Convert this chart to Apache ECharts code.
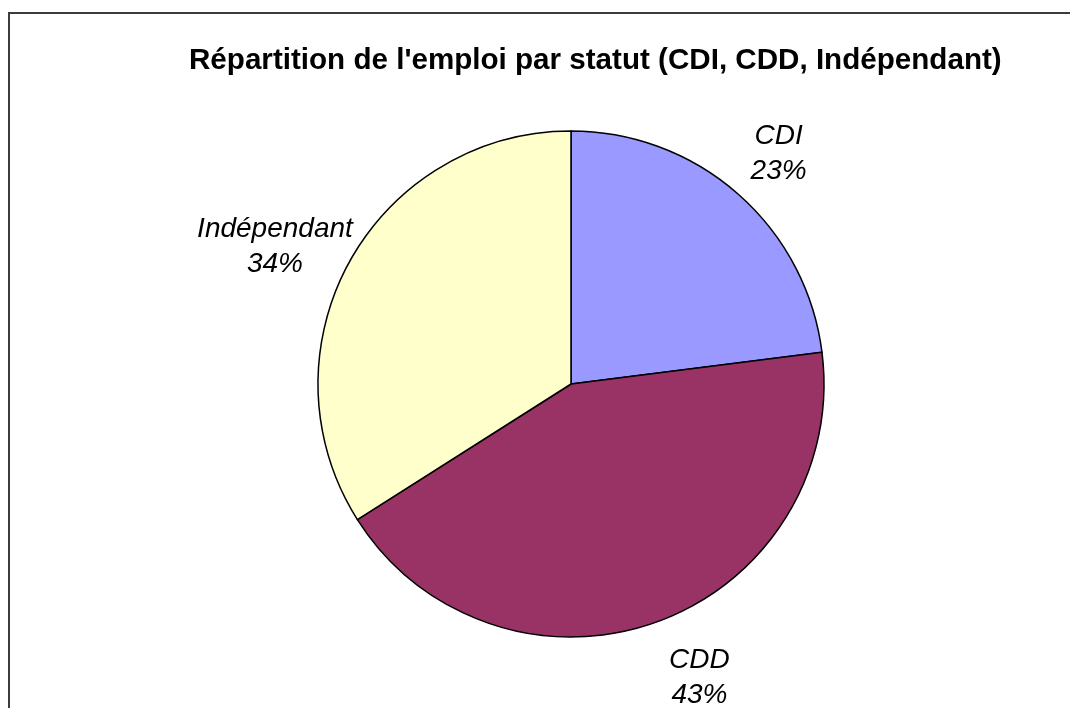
<!DOCTYPE html>
<html>
<head>
<meta charset="utf-8">
<script src="https://cdn.jsdelivr.net/npm/echarts@6/dist/echarts.min.js"></script>
<style>
  html, body { margin: 0; padding: 0; background: #fff; }
  #chart { width: 1070px; height: 708px; }
</style>
</head>
<body>
<div id="chart"></div>
<script>
// données du graphique
const categories = ['CDI', 'CDD', 'Indépendant'];
const values = [23, 43, 34];
const colors = ['#9999FF', '#993366', '#FFFFCC'];

const titleText = "Répartition de l'emploi par statut (CDI, CDD, Indépendant)";

const pieData = categories.map((name, i) => ({
  name: name,
  value: values[i],
  itemStyle: { color: colors[i] }
}));

// anneau invisible, sert juste à centrer les étiquettes hors du camembert
const labelData = categories.map((name, i) => ({ name: name, value: values[i] }));

// petits décalages des étiquettes (Excel ne les met pas pile sur l'angle médian)
const labelShift = [[-6, 12], [19, -10], [-13, 18]];

const chart = echarts.init(document.getElementById('chart'));
chart.setOption({
  backgroundColor: '#ffffff',
  animation: false,
  title: {
    text: titleText,
    left: 184,
    top: 41,
    textStyle: {
      fontFamily: 'Liberation Sans, Arial, sans-serif',
      fontWeight: 'bold',
      fontSize: 29.6,
      color: '#000'
    }
  },
  graphic: [{
    type: 'rect',
    shape: { x: 9, y: 13, width: 1200, height: 900 },
    style: { fill: 'none', stroke: '#3c3c3c', lineWidth: 2 },
    silent: true
  }],
  series: [
    {
      type: 'pie',
      center: [571, 384],
      radius: [0, 253],
      startAngle: 90,
      clockwise: true,
      silent: true,
      data: pieData,
      itemStyle: { borderColor: '#000', borderWidth: 1.5 },
      label: { show: false },
      labelLine: { show: false }
    },
    {
      type: 'pie',
      center: [571, 384],
      radius: [253, 387],
      startAngle: 90,
      clockwise: true,
      silent: true,
      data: labelData,
      itemStyle: { color: 'transparent', borderWidth: 0 },
      label: {
        show: true,
        position: 'inside',
        formatter: '{b}\n{d}%',
        fontFamily: 'Liberation Sans, Arial, sans-serif',
        fontStyle: 'italic',
        fontSize: 28,
        lineHeight: 35,
        color: '#000',
        align: 'center'
      },
      labelLine: { show: false },
      labelLayout: function (params) {
        const s = labelShift[params.dataIndex];
        return { dx: s[0], dy: s[1] };
      }
    }
  ]
});
</script>
</body>
</html>
